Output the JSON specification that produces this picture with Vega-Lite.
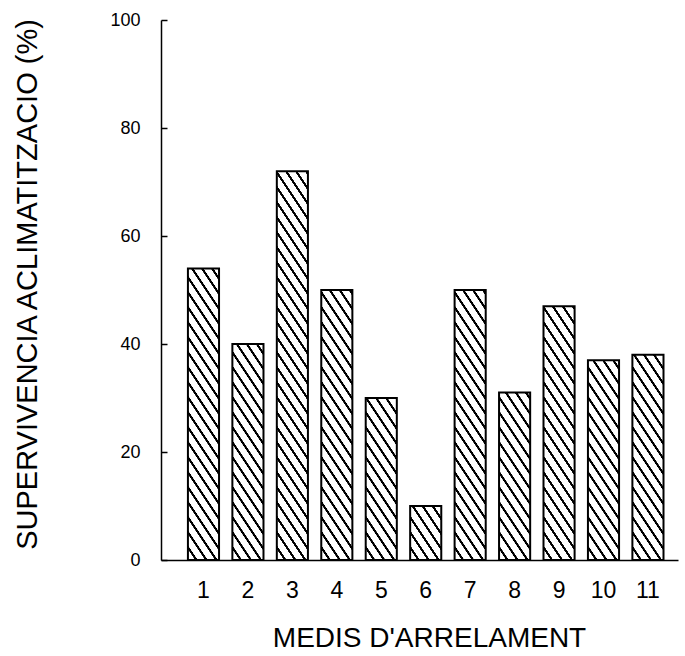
{
  "$schema": "https://vega.github.io/schema/vega-lite/v6.json",
  "width": 517,
  "height": 540,
  "autosize": {"type": "none"},
  "padding": {"left": 161, "top": 20, "right": 7, "bottom": 96},
  "background": "white",
  "config": {"view": {"stroke": null}, "font": "Liberation Sans"},
  "params": [
    {
      "name": "stripes",
      "value": [
        {"offset": 0, "color": "#fff"}, {"offset": 0.0233, "color": "#fff"}, {"offset": 0.0247, "color": "#000"}, {"offset": 0.032, "color": "#000"},
        {"offset": 0.0333, "color": "#fff"}, {"offset": 0.0567, "color": "#fff"}, {"offset": 0.058, "color": "#000"}, {"offset": 0.0653, "color": "#000"},
        {"offset": 0.0667, "color": "#fff"}, {"offset": 0.09, "color": "#fff"}, {"offset": 0.0913, "color": "#000"}, {"offset": 0.0987, "color": "#000"},
        {"offset": 0.1, "color": "#fff"}, {"offset": 0.1233, "color": "#fff"}, {"offset": 0.1247, "color": "#000"}, {"offset": 0.132, "color": "#000"},
        {"offset": 0.1333, "color": "#fff"}, {"offset": 0.1567, "color": "#fff"}, {"offset": 0.158, "color": "#000"}, {"offset": 0.1653, "color": "#000"},
        {"offset": 0.1667, "color": "#fff"}, {"offset": 0.19, "color": "#fff"}, {"offset": 0.1913, "color": "#000"}, {"offset": 0.1987, "color": "#000"},
        {"offset": 0.2, "color": "#fff"}, {"offset": 0.2233, "color": "#fff"}, {"offset": 0.2247, "color": "#000"}, {"offset": 0.232, "color": "#000"},
        {"offset": 0.2333, "color": "#fff"}, {"offset": 0.2567, "color": "#fff"}, {"offset": 0.258, "color": "#000"}, {"offset": 0.2653, "color": "#000"},
        {"offset": 0.2667, "color": "#fff"}, {"offset": 0.29, "color": "#fff"}, {"offset": 0.2913, "color": "#000"}, {"offset": 0.2987, "color": "#000"},
        {"offset": 0.3, "color": "#fff"}, {"offset": 0.3233, "color": "#fff"}, {"offset": 0.3247, "color": "#000"}, {"offset": 0.332, "color": "#000"},
        {"offset": 0.3333, "color": "#fff"}, {"offset": 0.3567, "color": "#fff"}, {"offset": 0.358, "color": "#000"}, {"offset": 0.3653, "color": "#000"},
        {"offset": 0.3667, "color": "#fff"}, {"offset": 0.39, "color": "#fff"}, {"offset": 0.3913, "color": "#000"}, {"offset": 0.3987, "color": "#000"},
        {"offset": 0.4, "color": "#fff"}, {"offset": 0.4233, "color": "#fff"}, {"offset": 0.4247, "color": "#000"}, {"offset": 0.432, "color": "#000"},
        {"offset": 0.4333, "color": "#fff"}, {"offset": 0.4567, "color": "#fff"}, {"offset": 0.458, "color": "#000"}, {"offset": 0.4653, "color": "#000"},
        {"offset": 0.4667, "color": "#fff"}, {"offset": 0.49, "color": "#fff"}, {"offset": 0.4913, "color": "#000"}, {"offset": 0.4987, "color": "#000"},
        {"offset": 0.5, "color": "#fff"}, {"offset": 0.5233, "color": "#fff"}, {"offset": 0.5247, "color": "#000"}, {"offset": 0.532, "color": "#000"},
        {"offset": 0.5333, "color": "#fff"}, {"offset": 0.5567, "color": "#fff"}, {"offset": 0.558, "color": "#000"}, {"offset": 0.5653, "color": "#000"},
        {"offset": 0.5667, "color": "#fff"}, {"offset": 0.59, "color": "#fff"}, {"offset": 0.5913, "color": "#000"}, {"offset": 0.5987, "color": "#000"},
        {"offset": 0.6, "color": "#fff"}, {"offset": 0.6233, "color": "#fff"}, {"offset": 0.6247, "color": "#000"}, {"offset": 0.632, "color": "#000"},
        {"offset": 0.6333, "color": "#fff"}, {"offset": 0.6567, "color": "#fff"}, {"offset": 0.658, "color": "#000"}, {"offset": 0.6653, "color": "#000"},
        {"offset": 0.6667, "color": "#fff"}, {"offset": 0.69, "color": "#fff"}, {"offset": 0.6913, "color": "#000"}, {"offset": 0.6987, "color": "#000"},
        {"offset": 0.7, "color": "#fff"}, {"offset": 0.7233, "color": "#fff"}, {"offset": 0.7247, "color": "#000"}, {"offset": 0.732, "color": "#000"},
        {"offset": 0.7333, "color": "#fff"}, {"offset": 0.7567, "color": "#fff"}, {"offset": 0.758, "color": "#000"}, {"offset": 0.7653, "color": "#000"},
        {"offset": 0.7667, "color": "#fff"}, {"offset": 0.79, "color": "#fff"}, {"offset": 0.7913, "color": "#000"}, {"offset": 0.7987, "color": "#000"},
        {"offset": 0.8, "color": "#fff"}, {"offset": 0.8233, "color": "#fff"}, {"offset": 0.8247, "color": "#000"}, {"offset": 0.832, "color": "#000"},
        {"offset": 0.8333, "color": "#fff"}, {"offset": 0.8567, "color": "#fff"}, {"offset": 0.858, "color": "#000"}, {"offset": 0.8653, "color": "#000"},
        {"offset": 0.8667, "color": "#fff"}, {"offset": 0.89, "color": "#fff"}, {"offset": 0.8913, "color": "#000"}, {"offset": 0.8987, "color": "#000"},
        {"offset": 0.9, "color": "#fff"}, {"offset": 0.9233, "color": "#fff"}, {"offset": 0.9247, "color": "#000"}, {"offset": 0.932, "color": "#000"},
        {"offset": 0.9333, "color": "#fff"}, {"offset": 0.9567, "color": "#fff"}, {"offset": 0.958, "color": "#000"}, {"offset": 0.9653, "color": "#000"},
        {"offset": 0.9667, "color": "#fff"}, {"offset": 0.99, "color": "#fff"}, {"offset": 0.9913, "color": "#000"}, {"offset": 0.9987, "color": "#000"},
        {"offset": 1, "color": "#fff"}
      ]
    }
  ],
  "data": {
    "values": [
      {"medi": "1", "supervivencia": 54},
      {"medi": "2", "supervivencia": 40},
      {"medi": "3", "supervivencia": 72},
      {"medi": "4", "supervivencia": 50},
      {"medi": "5", "supervivencia": 30},
      {"medi": "6", "supervivencia": 10},
      {"medi": "7", "supervivencia": 50},
      {"medi": "8", "supervivencia": 31},
      {"medi": "9", "supervivencia": 47},
      {"medi": "10", "supervivencia": 37},
      {"medi": "11", "supervivencia": 38}
    ]
  },
  "mark": {"type": "bar", "stroke": "#000", "strokeWidth": 2},
  "encoding": {
    "x": {
      "field": "medi",
      "type": "ordinal",
      "sort": null,
      "scale": {"paddingInner": 0.3, "paddingOuter": 0.466, "align": 0.65},
      "axis": {
        "labelAngle": 0,
        "ticks": false,
        "tickSize": 0,
        "domainColor": "#000",
        "domainWidth": 1.5,
        "labelFont": "Liberation Sans",
        "labelFontSize": 23,
        "labelColor": "#000",
        "labelPadding": 37,
        "labelBaseline": "alphabetic",
        "title": "MEDIS D'ARRELAMENT",
        "titleFont": "Liberation Sans",
        "titleFontSize": 28,
        "titleFontWeight": "normal",
        "titleColor": "#000",
        "titleX": 268,
        "titleY": 86,
        "titleAlign": "center",
        "titleBaseline": "alphabetic"
      }
    },
    "y": {
      "field": "supervivencia",
      "type": "quantitative",
      "scale": {"domain": [0, 100], "nice": false},
      "axis": {
        "values": [0, 20, 40, 60, 80, 100],
        "grid": false,
        "tickSize": -6,
        "tickWidth": 1.5,
        "tickColor": "#000",
        "domainColor": "#000",
        "domainWidth": 1.5,
        "labelFont": "Liberation Sans",
        "labelFontSize": 18,
        "labelColor": "#000",
        "labelPadding": 27,
        "title": "SUPERVIVENCIA ACLIMATITZACIO (%)",
        "titleFont": "Liberation Sans",
        "titleFontSize": 29,
        "titleFontWeight": "normal",
        "titleColor": "#000",
        "titleAngle": -90,
        "titleX": -125,
        "titleY": 264,
        "titleAlign": "center",
        "titleBaseline": "alphabetic"
      }
    },
    "fill": {
      "condition": [
        {"test": "datum.medi == '1'", "value": {"expr": "{gradient: 'linear', x1: 0, y1: 1, x2: 0.24072, y2: -0.50469, stops: stripes}"}},
        {"test": "datum.medi == '2'", "value": {"expr": "{gradient: 'linear', x1: 0, y1: 1, x2: 0.42989, y2: -0.99048, stops: stripes}"}},
        {"test": "datum.medi == '3'", "value": {"expr": "{gradient: 'linear', x1: 0, y1: 1, x2: 0.1369, y2: -0.14097, stops: stripes}"}},
        {"test": "datum.medi == '4'", "value": {"expr": "{gradient: 'linear', x1: 0, y1: 1, x2: 0.27962, y2: -0.61835, stops: stripes}"}},
        {"test": "datum.medi == '5'", "value": {"expr": "{gradient: 'linear', x1: 0, y1: 1, x2: 0.73865, y2: -1.56508, stops: stripes}"}},
        {"test": "datum.medi == '6'", "value": {"expr": "{gradient: 'linear', x1: 0, y1: 1, x2: 4.12248, y2: -3.77201, stops: stripes}"}},
        {"test": "datum.medi == '7'", "value": {"expr": "{gradient: 'linear', x1: 0, y1: 1, x2: 0.27962, y2: -0.61835, stops: stripes}"}},
        {"test": "datum.medi == '8'", "value": {"expr": "{gradient: 'linear', x1: 0, y1: 1, x2: 0.69513, y2: -1.49443, stops: stripes}"}},
        {"test": "datum.medi == '9'", "value": {"expr": "{gradient: 'linear', x1: 0, y1: 1, x2: 0.31525, y2: -0.7151, stops: stripes}"}},
        {"test": "datum.medi == '10'", "value": {"expr": "{gradient: 'linear', x1: 0, y1: 1, x2: 0.49868, y2: -1.13582, stops: stripes}"}},
        {"test": "datum.medi == '11'", "value": {"expr": "{gradient: 'linear', x1: 0, y1: 1, x2: 0.47405, y2: -1.0852, stops: stripes}"}}
      ],
      "value": "#fff"
    }
  }
}
